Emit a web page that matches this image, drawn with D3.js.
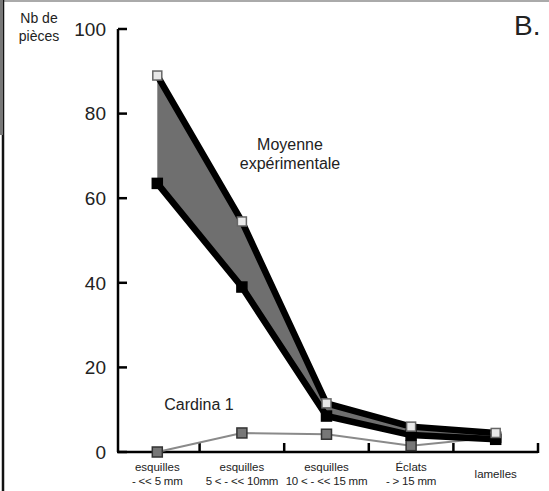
<!DOCTYPE html>
<html>
<head>
<meta charset="utf-8">
<script src="https://cdn.jsdelivr.net/npm/d3@7"></script>
<style>
  body { margin: 0; background: #fff; }
  text { font-family: "Liberation Sans", Arial, sans-serif; fill: #222; }
</style>
</head>
<body>
<script>
// categories (two text lines each)
var categories = ["c1", "c2", "c3", "c4", "c5"];
var catLine1 = ["esquilles", "esquilles", "esquilles", "Éclats", "lamelles"];
var catLine2 = ["- << 5 mm", "5 < - << 10mm", "10 < - << 15 mm", "- > 15 mm", ""];

// series values
var expMax = [89, 54.5, 11.5, 6, 4.5];
var expMin = [63.5, 39, 8.5, 4, 3];
var cardina = [0, 4.5, 4.2, 1.5, 3.5];

var yTicks = [0, 20, 40, 60, 80, 100];

var width = 549, height = 491;

var svg = d3.select("body").append("svg")
    .attr("width", width)
    .attr("height", height);

// cadre
svg.append("line").attr("x1", 0).attr("x2", width).attr("y1", 1).attr("y2", 1)
    .attr("stroke", "#aaa").attr("stroke-width", 2);
svg.append("line").attr("x1", 3).attr("x2", 3).attr("y1", 0).attr("y2", height)
    .attr("stroke", "#111").attr("stroke-width", 2.5);
svg.append("rect").attr("x", 0).attr("y", 0).attr("width", 3).attr("height", 135)
    .attr("fill", "#777");

var x = d3.scalePoint()
    .domain(categories)
    .range([115, 538])
    .padding(0.5);

var y = d3.scaleLinear()
    .domain([0, 100])
    .range([452, 29]);

var step = x.step();

// axe Y
var g = svg.append("g");
g.append("line").attr("x1", 118).attr("x2", 118).attr("y1", y(100)).attr("y2", y(0))
    .attr("stroke", "#000").attr("stroke-width", 2.5);
g.selectAll(".ytick").data(yTicks).enter().append("line")
    .attr("x1", 118).attr("x2", 127)
    .attr("y1", function(d) { return y(d); })
    .attr("y2", function(d) { return y(d); })
    .attr("stroke", "#000").attr("stroke-width", 2.5);
g.selectAll(".ylab").data(yTicks).enter().append("text")
    .attr("x", 106)
    .attr("y", function(d) { return y(d); })
    .attr("dy", "0.36em")
    .attr("text-anchor", "end")
    .attr("font-size", "19px")
    .text(function(d) { return d; });

// axe X
g.append("line").attr("x1", 117).attr("x2", 538).attr("y1", y(0)).attr("y2", y(0))
    .attr("stroke", "#000").attr("stroke-width", 2.5);
g.selectAll(".xtick").data(categories.slice(1)).enter().append("line")
    .attr("x1", function(d) { return x(d) - step / 2; })
    .attr("x2", function(d) { return x(d) - step / 2; })
    .attr("y1", y(0)).attr("y2", y(0) - 9)
    .attr("stroke", "#000").attr("stroke-width", 2.5);
g.append("line").attr("x1", 538).attr("x2", 538).attr("y1", y(0) + 1).attr("y2", y(0) - 9)
    .attr("stroke", "#000").attr("stroke-width", 2.5);

g.selectAll(".xl1").data(categories).enter().append("text")
    .attr("x", function(d) { return x(d); })
    .attr("y", function(d, i) { return catLine2[i] ? 471 : 478; })
    .attr("text-anchor", "middle")
    .attr("font-size", "11.5px")
    .attr("textLength", function(d, i) { return null; })
    .text(function(d, i) { return catLine1[i]; });
g.selectAll(".xl2").data(categories).enter().append("text")
    .attr("x", function(d) { return x(d); })
    .attr("y", 485)
    .attr("text-anchor", "middle")
    .attr("font-size", "11.5px")
    .attr("letter-spacing", "-0.2px")
    .text(function(d, i) { return catLine2[i]; });

// titres
svg.append("text").attr("x", 39).attr("y", 23).attr("text-anchor", "middle")
    .attr("font-size", "14px").text("Nb de");
svg.append("text").attr("x", 39).attr("y", 41).attr("text-anchor", "middle")
    .attr("font-size", "14px").text("pièces");
svg.append("text").attr("x", 514).attr("y", 35)
    .attr("font-size", "28px").text("B.");

// Cardina 1
var line = d3.line()
    .x(function(d, i) { return x(categories[i]); })
    .y(function(d) { return y(d); });

svg.append("path").datum(cardina)
    .attr("d", line)
    .attr("fill", "none")
    .attr("stroke", "#8a8a8a")
    .attr("stroke-width", 2);

// zone expérimentale
var area = d3.area()
    .x(function(d, i) { return x(categories[i]); })
    .y0(function(d, i) { return y(expMin[i]); })
    .y1(function(d) { return y(d); });

svg.append("path").datum(expMax)
    .attr("d", area)
    .attr("fill", "#6f6f6f");

[expMax, expMin].forEach(function(s) {
  svg.append("path").datum(s)
    .attr("d", line)
    .attr("fill", "none")
    .attr("stroke", "#000")
    .attr("stroke-width", 6.5)
    .attr("stroke-linejoin", "round");
});

// marqueurs
function squares(data, size, fill, stroke) {
  svg.append("g").selectAll("rect").data(data).enter().append("rect")
    .attr("x", function(d, i) { return x(categories[i]) - size / 2; })
    .attr("y", function(d) { return y(d) - size / 2; })
    .attr("width", size).attr("height", size)
    .attr("fill", fill)
    .attr("stroke", stroke)
    .attr("stroke-width", 1.5);
}
squares(cardina, 10, "#777", "#333");
squares(expMin, 10, "#000", "#000");
squares(expMax, 9, "#e8e8e8", "#666");

// étiquettes des séries
svg.append("text").attr("x", 290).attr("y", 150).attr("text-anchor", "middle")
    .attr("font-size", "16px").text("Moyenne");
svg.append("text").attr("x", 290).attr("y", 169).attr("text-anchor", "middle")
    .attr("font-size", "16px").text("expérimentale");
svg.append("text").attr("x", 199).attr("y", 410).attr("text-anchor", "middle")
    .attr("font-size", "16px").text("Cardina 1");
</script>
</body>
</html>
